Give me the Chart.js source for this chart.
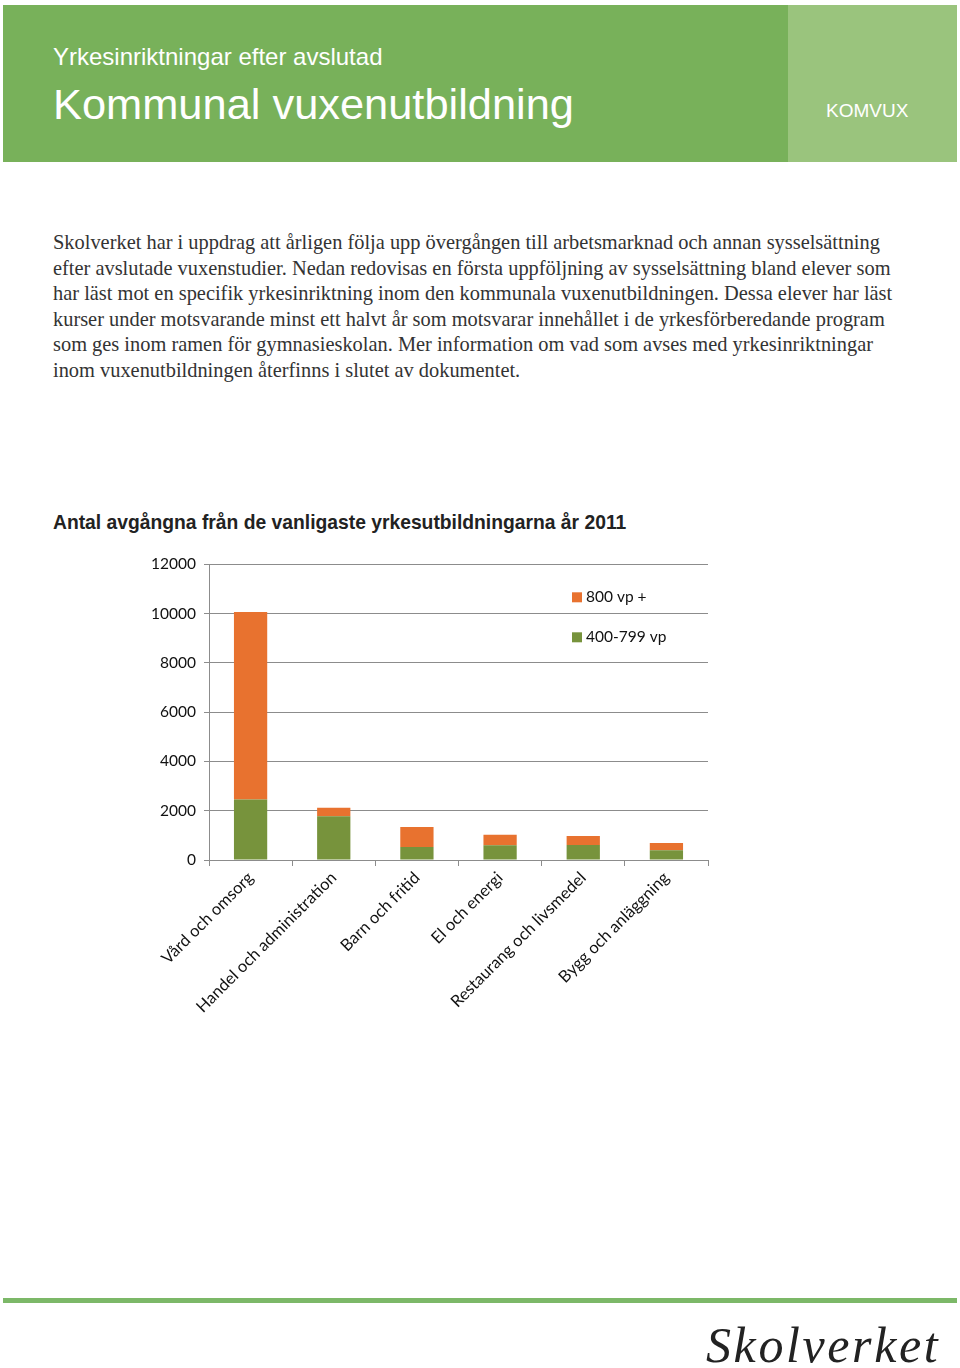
<!DOCTYPE html>
<html>
<head>
<meta charset="utf-8">
<title>Kommunal vuxenutbildning</title>
<script src="https://cdn.jsdelivr.net/npm/chart.js@4/dist/chart.umd.min.js"></script>
<style>
body { margin: 0; width: 960px; height: 1368px; background: #fff; position: relative; overflow: hidden; }
#head { position: absolute; left: 3px; top: 5px; width: 785px; height: 157px; background: #78b15a; color: #fff; font-family: "Liberation Sans Narrow", "Liberation Sans", Arial, sans-serif; }
#head .sub { position: absolute; left: 50px; top: 38px; font-size: 24px; }
#head .main { position: absolute; left: 50px; top: 75px; font-size: 43.4px; }
#side { position: absolute; left: 788px; top: 5px; width: 169px; height: 157px; background: #9ac47d; color: #fff; font-family: "Liberation Sans Narrow", "Liberation Sans", Arial, sans-serif; font-size: 19px; }
#side span { position: absolute; left: 38px; top: 95px; }
#intro { position: absolute; left: 53px; top: 230px; font-family: "Liberation Serif", "DejaVu Serif", serif; font-size: 20.4px; line-height: 25.6px; color: #333; white-space: nowrap; }
#ctitle { position: absolute; left: 53px; top: 512px; font-family: "Liberation Sans", Arial, sans-serif; font-weight: bold; font-size: 19.3px; color: #222; }
#wrap { position: absolute; left: 140px; top: 547px; width: 580px; height: 483px; }
#foot { position: absolute; left: 3px; top: 1298px; width: 954px; height: 5px; background: #7cb868; }
#logo { position: absolute; left: 706px; top: 1316px; font-family: "Liberation Serif", "DejaVu Serif", serif; font-style: italic; font-size: 50px; color: #222; letter-spacing: 2.6px; }
</style>
</head>
<body>

<div id="head">
  <div class="sub">Yrkesinriktningar efter avslutad</div>
  <div class="main">Kommunal vuxenutbildning</div>
</div>
<div id="side"><span>KOMVUX</span></div>

<div id="intro">
Skolverket har i uppdrag att årligen följa upp övergången till arbetsmarknad och annan sysselsättning<br>
efter avslutade vuxenstudier. Nedan redovisas en första uppföljning av sysselsättning bland elever som<br>
har läst mot en specifik yrkesinriktning inom den kommunala vuxenutbildningen. Dessa elever har läst<br>
kurser under motsvarande minst ett halvt år som motsvarar innehållet i de yrkesförberedande program<br>
som ges inom ramen för gymnasieskolan. Mer information om vad som avses med yrkesinriktningar<br>
inom vuxenutbildningen återfinns i slutet av dokumentet.
</div>

<div id="ctitle">Antal avgångna från de vanligaste yrkesutbildningarna år 2011</div>

<div id="wrap"><canvas id="chart"></canvas></div>

<div id="foot"></div>
<div id="logo">Skolverket</div>

<script>
const CATEGORIES = ['Vård och omsorg', 'Handel och administration', 'Barn och fritid',
                    'El och energi', 'Restaurang och livsmedel', 'Bygg och anläggning'];
const VP_400_799 = [2460, 1780, 530, 600, 610, 400];
const VP_800 = [7600, 340, 810, 420, 365, 290];
const Y_TICKS = [0, 2000, 4000, 6000, 8000, 10000, 12000];

const GREEN = '#77933c';
const ORANGE = '#e8722f';
const FONT_FAMILY = 'Lato, "Open Sans", sans-serif';

// legend drawn inside the plot, top right, orange first
const insideLegend = {
    id: 'insideLegend',
    afterDraw(chart) {
        const ctx = chart.ctx;
        const a = chart.chartArea;
        const items = chart.data.datasets.slice().reverse();
        ctx.save();
        ctx.font = '15.5px ' + FONT_FAMILY;
        ctx.textBaseline = 'middle';
        items.forEach(function (ds, i) {
            const x = a.right - 136;
            const y = a.top + 33 + i * 40;
            ctx.fillStyle = ds.backgroundColor;
            ctx.fillRect(x, y - 5, 10, 10);
            ctx.fillStyle = '#111';
            ctx.fillText(ds.label, x + 14, y);
        });
        ctx.restore();
    }
};

const ctx = document.getElementById('chart').getContext('2d');
new Chart(ctx, {
    type: 'bar',
    data: {
        labels: CATEGORIES,
        datasets: [
            { label: '400-799 vp', data: VP_400_799, backgroundColor: GREEN },
            { label: '800 vp +', data: VP_800, backgroundColor: ORANGE }
        ]
    },
    options: {
        animation: false,
        responsive: true,
        maintainAspectRatio: false,
        layout: { padding: { top: 11, right: 12, left: 0, bottom: 0 } },
        plugins: {
            legend: { display: false },
            tooltip: { enabled: false }
        },
        datasets: { bar: { barPercentage: 0.4, categoryPercentage: 1.0 } },
        scales: {
            x: {
                stacked: true,
                offset: true,
                border: { color: '#8c8c8c', width: 1 },
                grid: { offset: true, drawOnChartArea: false, color: '#8c8c8c', tickLength: 6 },
                ticks: { font: { family: FONT_FAMILY, size: 16.5 }, color: '#111', maxRotation: 45, minRotation: 45, padding: 2 },
                afterFit(axis) { axis.height = 170; }
            },
            y: {
                stacked: true,
                min: 0,
                max: 12000,
                afterBuildTicks(axis) { axis.ticks = Y_TICKS.map(v => ({ value: v })); },
                border: { color: '#8c8c8c', width: 1 },
                grid: { color: '#8c8c8c', tickLength: 5 },
                ticks: { font: { family: FONT_FAMILY, size: 15.5 }, color: '#111', padding: 8,
                         callback: v => String(v) },
                afterFit(axis) { axis.width = 69; }
            }
        }
    },
    plugins: [insideLegend]
});
</script>

</body>
</html>
